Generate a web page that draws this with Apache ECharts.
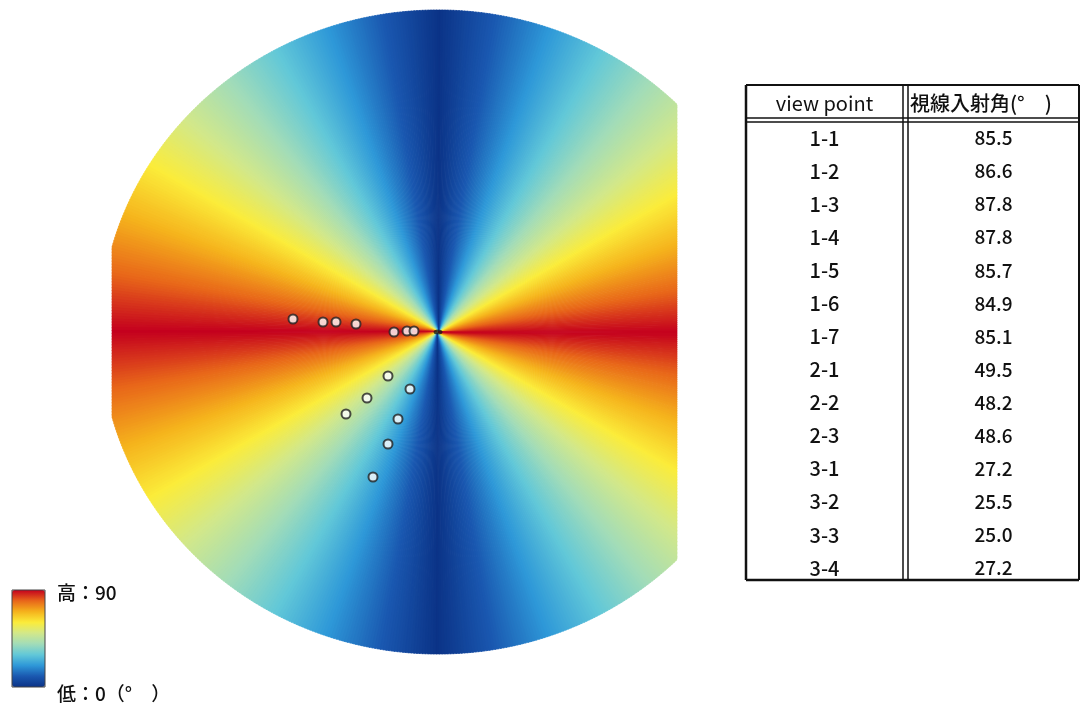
<!DOCTYPE html>
<html>
<head>
<meta charset="utf-8">
<script src="https://cdn.jsdelivr.net/npm/echarts@6/dist/echarts.min.js"></script>
<style>html,body{margin:0;padding:0;background:#fff}#main{width:1082px;height:707px}</style>
</head>
<body>
<div id="main"></div>
<script>
// ---- data ----
// table
const viewPoints = ['1-1','1-2','1-3','1-4','1-5','1-6','1-7','2-1','2-2','2-3','3-1','3-2','3-3','3-4'];
const incidenceAngles = ['85.5','86.6','87.8','87.8','85.7','84.9','85.1','49.5','48.2','48.6','27.2','25.5','25.0','27.2'];
const tableHeaders = ['view point', '視線入射角(°　)'];
// view point positions on the map (offset from the observer, map units, y up)
const pointX = [-145, -115, -102, -82, -44, -31, -24, -50, -71, -92, -28, -40, -50, -65];
const pointY = [13, 10, 10, 8, 0, 1, 1, -44, -66, -82, -57, -87, -112, -145];
// legend texts
const legendHigh = '高：90';
const legendLow = '低：0（°　）';
const legendMin = 0, legendMax = 90;
const legendColors = ['#0b3387','#1a58b0','#2e98d8','#62c8d8','#a2dcb8','#d2e88a','#fbec3a','#f5b21c','#e8661a','#c4001e'];

// incidence-angle raster: one thin wedge per direction, value = angle of line of sight from vertical
const wedgeStep = 0.5;
const fieldData = [];
for (let a = 0; a < 360; a += wedgeStep) {
  let e = a % 180; if (e > 90) e = 180 - e;
  fieldData.push([a, 90 - e]);
}

// ---- layout ----
const RX = 338, RY = 322, XMIN = -326, XMAX = 239;
const chart = echarts.init(document.getElementById('main'));
const FONT = "'Noto Sans CJK JP', 'Noto Sans', sans-serif";

function renderWedge(params, api) {
  const a = api.value(0) * Math.PI / 180;
  const h = wedgeStep / 2 * Math.PI / 180 * 1.3;
  const c = api.coord([0, 0]);
  const pts = [c];
  [a - h, a, a + h].forEach(function (t) {
    const cs = Math.cos(t), sn = Math.sin(t);
    const r = 1 / Math.sqrt((cs / RX) * (cs / RX) + (sn / RY) * (sn / RY));
    let x = r * cs, y = r * sn, s = 1;
    if (x < XMIN) s = XMIN / x;
    if (x > XMAX) s = XMAX / x;
    pts.push(api.coord([x * s, y * s]));
  });
  const col = api.visual('color');
  return { type: 'polygon', shape: { points: pts }, style: { fill: col, stroke: col, lineWidth: 0.6 } };
}

// table graphics
const T = { left: 746, right: 1079, top: 85, bottom: 580, colX: 903, colX2: 908, hY: 118, hY2: 122, firstRow: 138, rowH: 33.08 };
const graphics = [];
function line(x1, y1, x2, y2, w) {
  graphics.push({ type: 'line', shape: { x1: x1, y1: y1, x2: x2, y2: y2 }, style: { stroke: '#111', lineWidth: w }, z: 100 });
}
line(T.left, T.top, T.right, T.top, 2);
line(T.left, T.bottom, T.right, T.bottom, 2.5);
line(T.left, T.top, T.left, T.bottom, 2.5);
line(T.right, T.top, T.right, T.bottom, 2);
line(T.colX, T.top, T.colX, T.bottom, 1.5);
line(T.colX2, T.top, T.colX2, T.bottom, 1.5);
line(T.left, T.hY, T.right, T.hY, 1.5);
line(T.left, T.hY2, T.right, T.hY2, 1.5);
function txt(s, x, y, size, align, weight) {
  graphics.push({ type: 'text', x: x, y: y, z: 101,
    style: { text: s, fill: '#111', font: (weight || 'normal') + ' ' + size + 'px ' + FONT, align: align || 'center', verticalAlign: 'middle' } });
}
txt(tableHeaders[0], (T.left + T.colX) / 2, 103, 20);
txt(tableHeaders[1], 910, 103, 20, 'left', '500');
viewPoints.forEach(function (v, i) {
  const y = T.firstRow + i * T.rowH;
  txt(v, (T.left + T.colX) / 2, y, 20, 'center', '500');
  txt(incidenceAngles[i], (T.colX2 + T.right) / 2, y, 19, 'center', '500');
});
// legend labels
txt(legendHigh, 57, 593, 19, 'left', '500');
txt(legendLow, 57, 694, 19, 'left', '500');
graphics.push({ type: 'rect', shape: { x: 12, y: 590, width: 33, height: 97 }, style: { fill: null, stroke: '#444', lineWidth: 1 }, z: 102 });

const option = {
  animation: false,
  backgroundColor: '#fff',
  grid: { left: 0, top: 0, width: 1082, height: 707, show: false },
  xAxis: { type: 'value', min: -438, max: 644, show: false },
  yAxis: { type: 'value', min: -375, max: 332, show: false },
  visualMap: {
    type: 'continuous', min: legendMin, max: legendMax, seriesIndex: 0, dimension: 1,
    inRange: { color: legendColors },
    left: -3, top: 575, itemWidth: 33, itemHeight: 97, calculable: false, hoverLink: false
  },
  graphic: graphics,
  series: [
    { type: 'custom', renderItem: renderWedge, data: fieldData, silent: true, z: 1 },
    { type: 'scatter', data: pointX.map(function (x, i) { return [x, pointY[i]]; }), symbol: 'circle', symbolSize: 9,
      itemStyle: { color: '#fff', borderColor: '#222', borderWidth: 2 }, z: 5, silent: true },
    { type: 'scatter', data: [[0, 0]], symbol: 'circle', symbolSize: [9, 5],
      itemStyle: { color: '#1a1a1a' }, z: 4, silent: true }
  ]
};
chart.setOption(option);
</script>
</body>
</html>
